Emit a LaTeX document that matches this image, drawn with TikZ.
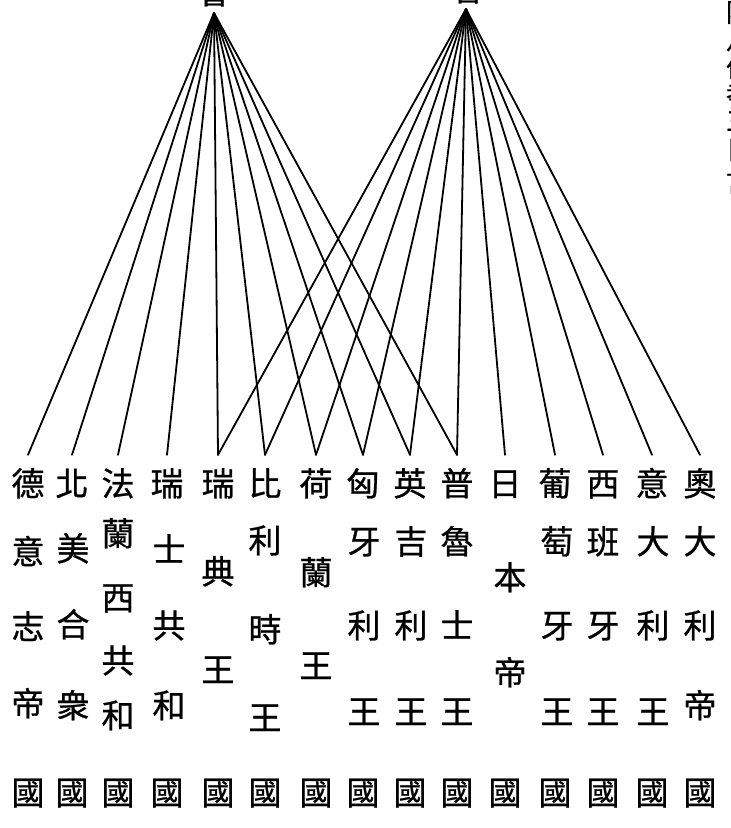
\documentclass[tikz,border=0pt]{standalone}
\usepackage{fontspec}
\newfontfamily\cjk[FakeBold=0.8]{Noto Sans CJK TC}
\begin{document}
\begin{tikzpicture}[x=1pt,y=-1pt,
  ch/.style={font=\cjk\fontsize{33}{33}\selectfont, inner sep=0pt, text height=25pt, text depth=1.3pt},
  toprow/.style={ch, inner ysep=15.8pt},
  side/.style={font=\cjk\fontsize{26}{26}\selectfont, inner sep=0pt},
  conn/.style={line width=1.8pt, line cap=round}]
\useasboundingbox (0,0) rectangle (731,828);
\clip (0,0) rectangle (731,828);
% cut-off titles at the top
\node[ch] (ttl) at (214,-8) {會};
\node[ch] (ttr) at (468,-11) {會};
\coordinate (L) at (214,13);
\coordinate (R) at (466,9);
% cut-off vertical text at the right edge
\node[side] (s1) at (739,12) {陸};
\node[side] (s2) at (739,40) {凡};
\node[side] (s3) at (739,67) {伯};
\node[side] (s4) at (739,94) {孝};
\node[side] (s5) at (739,121) {三};
\node[side] (s6) at (739,150) {日};
\node[side] (s7) at (739,182) {言};
% first row
\node[toprow] (t1) at (28,484) {德};
\node[toprow] (t2) at (72,484) {北};
\node[toprow] (t3) at (118,484) {法};
\node[toprow] (t4) at (167,484) {瑞};
\node[toprow] (t5) at (218,484) {瑞};
\node[toprow] (t6) at (265,484) {比};
\node[toprow] (t7) at (316,484) {荷};
\node[toprow] (t8) at (363,484) {匈};
\node[toprow] (t9) at (410,484) {英};
\node[toprow] (t10) at (457,484) {普};
\node[toprow] (t11) at (505,484) {日};
\node[toprow] (t12) at (555,484) {葡};
\node[toprow] (t13) at (603,484) {西};
\node[toprow] (t14) at (652,484) {意};
\node[toprow] (t15) at (700,484) {奧};
% connectors
\foreach \i in {1,...,10} \draw[conn] (L) -- (t\i.north);
\foreach \i in {5,...,15} \draw[conn] (R) -- (t\i.north);
% column 1
\node[ch] (a2) at (28,552) {意};
\node[ch] (a3) at (28,627) {志};
\node[ch] (a4) at (28,704) {帝};
% column 2
\node[ch] (b2) at (73,549) {美};
\node[ch] (b3) at (73,625) {合};
\node[ch] (b4) at (73,706) {衆};
% column 3
\node[ch] (c2) at (118,534) {蘭};
\node[ch] (c3) at (118,598) {西};
\node[ch] (c4) at (118,661) {共};
\node[ch] (c5) at (118,716) {和};
% column 4
\node[ch] (d2) at (169,550) {士};
\node[ch] (d3) at (169,626) {共};
\node[ch] (d4) at (169,706) {和};
% column 5
\node[ch] (e2) at (218,572) {典};
\node[ch] (e3) at (218,670) {王};
% column 6
\node[ch] (f2) at (265,541) {利};
\node[ch] (f3) at (265,630) {時};
\node[ch] (f4) at (265,718) {王};
% column 7
\node[ch] (g2) at (316,573) {蘭};
\node[ch] (g3) at (316,666) {王};
% column 8
\node[ch] (h2) at (364,542) {牙};
\node[ch] (h3) at (364,626) {利};
\node[ch] (h4) at (364,712) {王};
% column 9
\node[ch] (i2) at (411,542) {吉};
\node[ch] (i3) at (411,626) {利};
\node[ch] (i4) at (411,712) {王};
% column 10
\node[ch] (j2) at (457,542) {魯};
\node[ch] (j3) at (457,626) {士};
\node[ch] (j4) at (457,712) {王};
% column 11
\node[ch] (k2) at (510,578) {本};
\node[ch] (k3) at (510,673) {帝};
% column 12
\node[ch] (l2) at (557,542) {萄};
\node[ch] (l3) at (557,626) {牙};
\node[ch] (l4) at (557,712) {王};
% column 13
\node[ch] (m2) at (603,542) {班};
\node[ch] (m3) at (603,626) {牙};
\node[ch] (m4) at (603,712) {王};
% column 14
\node[ch] (n2) at (653,542) {大};
\node[ch] (n3) at (653,626) {利};
\node[ch] (n4) at (653,712) {王};
% column 15
\node[ch] (o2) at (700,542) {大};
\node[ch] (o3) at (700,626) {利};
\node[ch] (o4) at (700,706) {帝};
% last row
\foreach \x [count=\k] in {28,72,118,167,218,265,316,363,410,457,505,555,603,652,700}
  \node[ch] (g\k) at (\x,793) {國};
\end{tikzpicture}
\end{document}
